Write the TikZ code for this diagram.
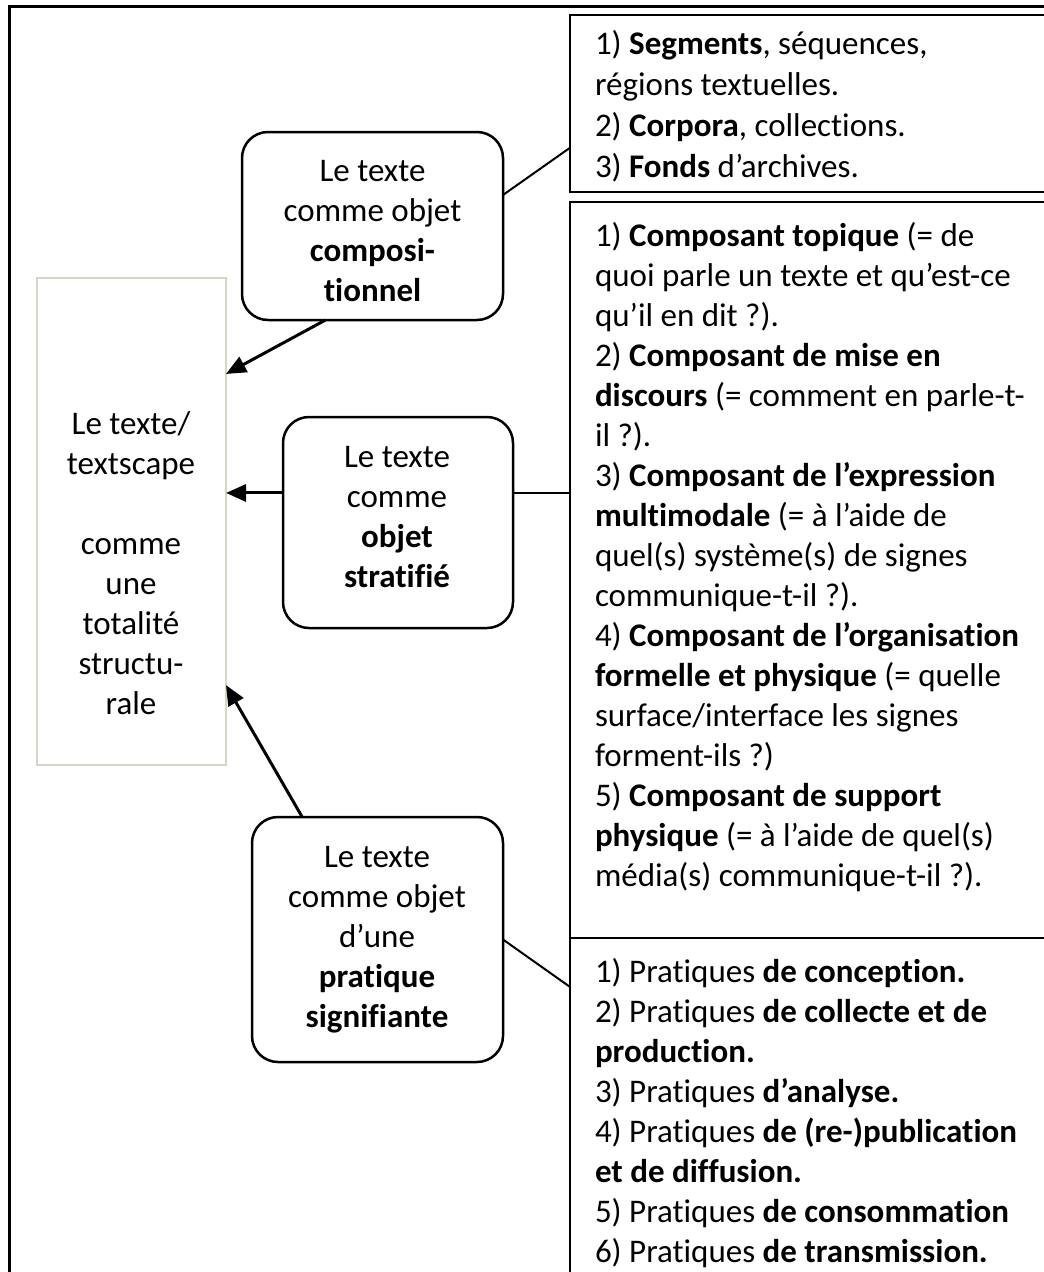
\documentclass[tikz,border=0pt]{standalone}
\usepackage{fontspec}
\setmainfont{Carlito}[Ligatures={NoCommon}]
\usetikzlibrary{arrows.meta,calc}
\definecolor{boxgray}{RGB}{214,214,198}
\newcommand\myfs{\fontsize{33}{40}\selectfont}
\tikzset{
  rbox/.style={draw=black, line width=2.5pt, rounded corners=26pt, inner sep=0pt, outer sep=0pt, anchor=north west},
  sbox/.style={draw=black, line width=2pt, inner sep=0pt, outer sep=0pt, anchor=north west},
  lbox/.style={draw=boxgray, line width=2pt, inner sep=0pt, outer sep=0pt, anchor=north west},
  txt/.style={inner sep=0pt, outer sep=0pt, font=\myfs},
  arr/.style={line width=3pt, -{Triangle[length=20pt,width=17pt]}},
  ln/.style={line width=2pt}
}
\begin{document}
\begin{tikzpicture}[x=1pt,y=-1pt]
\useasboundingbox (0,0) rectangle (1044,1272);
\clip (0,0) rectangle (1044,1272);
\fill[white] (0,0) rectangle (1044,1272);
% outer frame
\draw[line width=3pt] (9,1300) -- (9,6) -- (1070,6);
% left box
\node[lbox, minimum width=189pt, minimum height=487pt] (L) at (37,278) {};
\node[txt, anchor=base] (Lt) at (131,434) {\parbox[t]{200pt}{\centering Le texte/\\textscape\\[40pt]comme\\une\\totalité\\structu-\\rale}};
% rounded boxes
\node[rbox, minimum width=261pt, minimum height=188pt] (A) at (242,132) {};
\node[txt, anchor=base] (At) at (372.5,181) {\parbox[t]{300pt}{\centering Le texte\\comme objet\\\textbf{composi-}\\\textbf{tionnel}}};
\node[rbox, minimum width=230pt, minimum height=211pt] (B) at (283,417) {};
\node[txt, anchor=base] (Bt) at (397,467) {\parbox[t]{300pt}{\centering Le texte\\comme\\\textbf{objet}\\\textbf{stratifié}}};
\node[rbox, minimum width=251pt, minimum height=245pt] (C) at (252,817) {};
\node[txt, anchor=base] (Ct) at (377,867) {\parbox[t]{300pt}{\centering Le texte\\comme objet\\d’une\\\textbf{pratique}\\\textbf{signifiante}}};
% right boxes
\node[sbox, minimum width=500pt, minimum height=177pt] (R1) at (570,15) {};
\node[txt, anchor=base west] (R1t) at (595,54) {\parbox[t]{460pt}{\fontsize{33}{41}\selectfont\raggedright
1) \textbf{Segments}, séquences,\\
régions textuelles.\\
2) \textbf{Corpora}, collections.\\
3) \textbf{Fonds} d’archives.}};
\node[sbox, minimum width=500pt, minimum height=736pt] (R2) at (570,202) {};
\node[txt, anchor=base west] (R2t) at (595,246) {\parbox[t]{460pt}{\raggedright
1) \textbf{Composant topique} (= de\\
quoi parle un texte et qu’est-ce\\
qu’il en dit ?).\\
2) \textbf{Composant de mise en}\\
\textbf{discours} (= comment en parle-t-\\
il ?).\\
3) \textbf{Composant de l’expression}\\
\textbf{multimodale} (= à l’aide de\\
quel(s) système(s) de signes\\
communique-t-il ?).\\
4) \textbf{Composant de l’organisation}\\
\textbf{formelle et physique} (= quelle\\
surface/interface les signes\\
forment-ils ?)\\
5) \textbf{Composant de support}\\
\textbf{physique} (= à l’aide de quel(s)\\
média(s) communique-t-il ?).}};
\node[sbox, minimum width=500pt, minimum height=352pt] (R3) at (570,938) {};
\node[txt, anchor=base west] (R3t) at (595,982) {\parbox[t]{460pt}{\raggedright
1) Pratiques \textbf{de conception.}\\
2) Pratiques \textbf{de collecte et de}\\
\textbf{production.}\\
3) Pratiques \textbf{d’analyse.}\\
4) Pratiques \textbf{de (re-)publication}\\
\textbf{et de diffusion.}\\
5) Pratiques \textbf{de consommation}\\
6) Pratiques \textbf{de transmission.}}};
% connectors
\draw[arr] ($(A.south west)!0.32!(A.south east)$) -- ($(L.north east)!0.197!(L.south east)$);
\draw[arr] ($(B.north west)!0.36!(B.south west)$) coordinate (b1) -- (L.east |- b1);
\draw[ln] ($(B.north east)!0.36!(B.south east)$) coordinate (b2) -- (R2.west |- b2);
\draw[ln] ($(A.north east)!0.335!(A.south east)$) -- ($(R1.north west)!0.75!(R1.south west)$);
\draw[arr] ($(C.north west)!0.2!(C.north east)$) -- ($(L.north east)!0.836!(L.south east)$);
\draw[ln] (C.east) -- ($(R3.north west)!0.139!(R3.south west)$);
\end{tikzpicture}
\end{document}
